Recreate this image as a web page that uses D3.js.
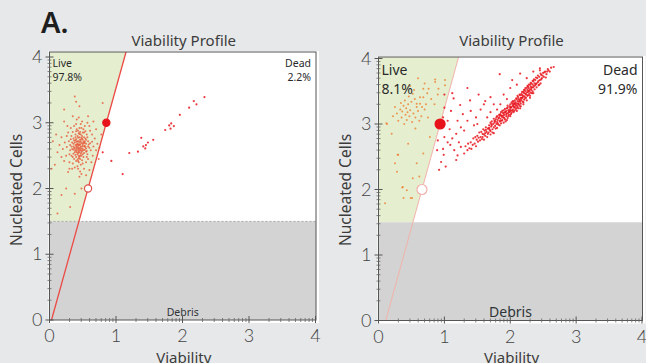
<!DOCTYPE html>
<html>
<head>
<meta charset="utf-8">
<script src="https://cdn.jsdelivr.net/npm/d3@7/dist/d3.min.js"></script>
<style>
  body { margin: 0; background: #e7e8e9; }
  svg { display: block; font-family: "Noto Sans", "DejaVu Sans", sans-serif; }
</style>
</head>
<body>
<div id="chart"></div>
<script>
// ---- data (log10 units) ----
var axisTicks = [0, 1, 2, 3, 4];
var debrisCut = 1.5;

// left sample
var liveA = [
  [0.42,2.62],[0.45,2.70],[0.38,2.55],[0.50,2.66],[0.47,2.58],[0.40,2.75],[0.53,2.72],[0.44,2.50],[0.36,2.68],[0.49,2.80],
  [0.41,2.60],[0.55,2.61],[0.33,2.64],[0.46,2.45],[0.52,2.54],[0.39,2.82],[0.43,2.88],[0.57,2.78],[0.31,2.58],[0.48,2.92],
  [0.35,2.48],[0.59,2.67],[0.44,2.40],[0.51,2.48],[0.29,2.72],[0.62,2.58],[0.37,2.95],[0.54,2.87],[0.42,2.34],[0.47,2.98],
  [0.26,2.63],[0.64,2.71],[0.33,2.80],[0.58,2.45],[0.40,2.42],[0.50,2.38],[0.45,2.55],[0.43,2.77],[0.36,2.59],[0.52,2.64],
  [0.48,2.69],[0.39,2.66],[0.46,2.62],[0.44,2.66],[0.41,2.71],[0.49,2.57],[0.53,2.59],[0.38,2.61],[0.47,2.74],[0.42,2.52],
  [0.55,2.68],[0.34,2.70],[0.60,2.62],[0.30,2.52],[0.56,2.82],[0.40,2.87],[0.50,2.85],[0.45,2.83],[0.37,2.45],[0.57,2.52],
  [0.23,2.70],[0.66,2.64],[0.28,2.85],[0.61,2.88],[0.35,2.38],[0.55,2.40],[0.43,2.30],[0.49,3.02],[0.41,3.05],[0.53,2.95],
  [0.20,2.60],[0.68,2.76],[0.25,2.50],[0.65,2.50],[0.32,2.92],[0.60,2.95],[0.38,2.32],[0.52,2.30],[0.46,2.26],[0.44,3.08],
  [0.18,2.78],[0.72,2.68],[0.22,2.42],[0.70,2.58],[0.27,2.95],[0.63,2.40],[0.34,2.30],[0.57,3.00],[0.48,2.22],[0.40,2.98],
  [0.15,2.66],[0.75,2.62],[0.30,2.40],[0.36,2.76],[0.54,2.76],[0.47,2.64],[0.43,2.58],[0.51,2.71],[0.39,2.51],[0.45,2.78],
  [0.42,2.68],[0.48,2.50],[0.36,2.64],[0.53,2.65],[0.44,2.46],[0.40,2.57],[0.50,2.60],[0.46,2.86],[0.35,2.86],[0.58,2.72],
  [0.31,2.66],[0.61,2.69],[0.42,2.80],[0.49,2.43],[0.38,2.70],[0.55,2.56],[0.44,2.72],[0.47,2.53],[0.41,2.65],[0.52,2.78],
  [0.46,2.58],[0.43,2.63],[0.50,2.74],[0.39,2.78],[0.48,2.61],[0.45,2.48],[0.37,2.62],[0.54,2.63],[0.42,2.44],[0.51,2.90],
  [0.12,2.55],[0.10,2.82],[0.08,2.36],[0.78,2.82],[0.74,2.45],[0.28,2.25],[0.60,2.28],[0.22,3.02],[0.66,3.02],[0.35,3.10],
  [0.58,3.10],[0.45,2.18],[0.55,2.20],[0.30,2.30],[0.18,2.48],[0.70,2.90],[0.26,2.80],[0.64,2.82],[0.33,2.50],[0.56,2.48],
  [0.43,2.67],[0.47,2.71],[0.41,2.55],[0.50,2.52],[0.45,2.61],[0.39,2.73],[0.52,2.69],[0.44,2.56],[0.48,2.77],[0.46,2.67],
  [0.44,2.60],[0.46,2.74],[0.41,2.67],[0.49,2.64],[0.43,2.54],[0.47,2.82],[0.40,2.63],[0.51,2.58],[0.45,2.66],[0.42,2.72],
  [0.48,2.55],[0.44,2.84],[0.50,2.69],[0.39,2.58],[0.46,2.50],[0.53,2.70],[0.37,2.73],[0.45,2.92],[0.43,2.42],[0.49,2.76],
  [0.36,2.53],[0.55,2.74],[0.34,2.60],[0.52,2.85],[0.40,2.48],[0.58,2.64],[0.32,2.75],[0.47,2.36],[0.41,2.90],[0.56,2.57],
  [0.38,3.40],[0.40,3.32],[0.45,3.25],[0.22,3.20],[0.31,1.72],[0.25,2.00],[0.48,2.00],[0.18,1.90],[0.12,1.62],[0.38,1.92],
  [0.05,2.72],[0.03,2.30],[0.80,3.30]
];
var deadA = [
  [2.33,3.39],[2.17,3.33],[2.21,3.28],[2.10,3.23],[1.96,3.12],[1.83,2.99],[1.80,2.96],[1.87,2.95],[1.74,2.89],[1.82,2.91],
  [1.56,2.74],[1.48,2.70],[1.45,2.66],[1.41,2.64],[1.44,2.61],[1.38,2.77],[1.33,2.56],[1.20,2.54],[0.93,2.42],[0.80,2.55],
  [1.10,2.22]
];
var gateA = [{x: 0.58, y: 2, open: true}, {x: 0.855, y: 3, open: false}];

// right sample
var liveB = [
  [0.86,3.68],[1.01,3.59],[0.28,3.16],[0.36,3.19],[0.41,3.14],[0.48,3.21],[0.53,3.16],[0.58,3.26],[0.63,3.31],[0.68,3.41],
  [0.74,3.47],[0.76,3.54],[0.43,3.06],[0.51,3.03],[0.56,2.93],[0.12,3.01],[0.78,2.80],[0.30,2.53],[0.68,2.55],[0.58,2.40],
  [0.52,2.17],[0.37,2.04],[0.38,1.87],[0.51,1.87],[0.10,1.79],[0.28,2.27],[0.29,2.53],[0.36,2.03],[0.43,1.99],[0.49,1.87],
  [0.13,3.00],[0.86,3.64],[1.01,3.67],[0.91,3.54],[0.68,3.54],[0.63,3.41],[0.58,3.31],[0.33,3.22],[0.38,3.28],[0.45,3.30],
  [0.50,3.34],[0.55,3.38],[0.42,3.24],[0.47,3.12],[0.35,3.10],[0.60,3.20],[0.65,3.12],[0.70,3.22],[0.40,3.36],[0.46,3.42],
  [0.52,3.46],[0.30,3.05],[0.25,3.26],[0.62,3.05],[0.72,3.30],[0.80,3.38],[0.34,3.32],[0.56,3.10],[0.44,3.18],[0.66,3.26],
  [0.22,3.12],[0.39,3.00],[0.75,3.10],[0.85,3.30],[0.90,3.45],[0.54,3.52],[0.48,3.58],[0.70,3.62],[0.60,3.70],[0.20,2.85],
  [0.45,2.70],[0.62,2.20],[0.25,2.40]
];
var deadB = [
  [1.30,2.55],[1.32,2.66],[1.35,2.60],[1.36,2.70],[1.38,2.63],[1.40,2.72],[1.41,2.62],[1.43,2.68],[1.44,2.78],[1.46,2.70],
  [1.47,2.80],[1.48,2.66],[1.49,2.76],[1.50,2.82],[1.51,2.73],[1.52,2.79],[1.53,2.87],[1.54,2.75],[1.55,2.80],[1.56,2.88],
  [1.57,2.77],[1.58,2.85],[1.59,2.92],[1.60,2.84],[1.61,2.90],[1.62,2.82],[1.63,2.95],[1.64,2.88],[1.65,2.80],[1.66,2.93],
  [1.67,2.87],[1.68,2.98],[1.69,2.91],[1.70,3.02],[1.70,2.89],[1.71,2.96],[1.72,3.04],[1.73,2.92],[1.74,3.00],[1.75,3.08],
  [1.75,2.95],[1.76,3.02],[1.77,2.97],[1.78,3.07],[1.79,3.00],[1.80,3.12],[1.80,3.03],[1.81,3.06],[1.82,2.99],[1.83,3.10],
  [1.84,3.04],[1.85,3.15],[1.85,3.08],[1.86,3.01],[1.87,3.12],[1.88,3.06],[1.89,3.17],[1.90,3.10],[1.90,3.21],[1.91,3.14],
  [1.92,3.07],[1.93,3.18],[1.94,3.12],[1.95,3.24],[1.95,3.16],[1.96,3.09],[1.97,3.21],[1.98,3.14],[1.99,3.27],[2.00,3.20],
  [2.00,3.30],[2.01,3.25],[2.02,3.17],[2.03,3.31],[2.04,3.22],[2.05,3.34],[2.05,3.27],[2.06,3.20],[2.07,3.36],[2.08,3.29],
  [2.09,3.24],[2.10,3.38],[2.10,3.31],[2.11,3.26],[2.12,3.41],[2.13,3.34],[2.14,3.28],[2.15,3.44],[2.15,3.37],[2.16,3.31],
  [2.17,3.46],[2.18,3.40],[2.19,3.34],[2.20,3.49],[2.20,3.43],[2.21,3.37],[2.22,3.52],[2.23,3.46],[2.24,3.40],[2.25,3.55],
  [2.25,3.48],[2.26,3.43],[2.27,3.57],[2.28,3.51],[2.29,3.46],[2.30,3.60],[2.30,3.53],[2.31,3.48],[2.32,3.62],[2.33,3.56],
  [2.34,3.50],[2.35,3.65],[2.36,3.58],[2.37,3.53],[2.38,3.67],[2.39,3.61],[2.40,3.56],[2.41,3.70],[2.42,3.64],[2.43,3.59],
  [2.44,3.72],[2.45,3.67],[2.46,3.62],[2.47,3.75],[2.48,3.70],[2.50,3.78],[2.51,3.72],[2.53,3.80],[2.55,3.76],[2.57,3.84],
  [2.60,3.80],[2.62,3.86],[2.66,3.87],[2.58,3.82],
  [1.82,3.09],[1.86,3.13],[1.88,3.10],[1.92,3.18],[1.94,3.20],[1.97,3.17],[1.99,3.22],[2.02,3.26],[2.04,3.28],[2.06,3.31],
  [2.08,3.33],[2.11,3.35],[2.13,3.38],[2.16,3.40],[2.18,3.44],[2.21,3.47],[2.23,3.50],[2.26,3.52],[2.28,3.55],[2.31,3.57],
  [2.34,3.60],[2.37,3.62],[1.84,3.13],[1.89,3.13],[1.96,3.25],[2.01,3.21],[2.07,3.26],[2.12,3.31],[2.17,3.39],[2.22,3.42],
  [2.27,3.49],[2.32,3.52],
  [1.63,2.91],[1.66,2.85],[1.68,2.94],[1.71,3.00],[1.73,2.87],[1.76,3.05],[1.78,2.93],[1.79,3.10],[1.81,3.01],[1.83,3.14],
  [1.84,2.98],[1.86,3.18],[1.87,3.05],[1.88,3.20],[1.91,3.09],[1.92,3.23],[1.93,3.04],[1.94,3.15],[1.96,3.28],[1.97,3.12],
  [1.98,3.19],[2.00,3.25],[2.01,3.15],[2.02,3.33],[2.03,3.20],[2.04,3.35],[2.05,3.18],[2.06,3.25],[2.07,3.31],[2.08,3.22],
  [2.09,3.39],[2.10,3.28],[2.11,3.43],[2.12,3.24],[2.13,3.30],[2.14,3.45],[2.15,3.34],[2.16,3.27],[2.17,3.36],[2.18,3.49],
  [2.19,3.41],[2.20,3.33],[2.21,3.52],[2.22,3.39],[2.23,3.55],[2.24,3.45],[2.25,3.36],[2.26,3.58],[2.27,3.44],[2.28,3.60],
  [2.29,3.50],[2.30,3.43],[2.31,3.63],[2.32,3.55],[2.33,3.47],[2.34,3.66],[2.35,3.56],[2.36,3.68],[2.38,3.59],[2.39,3.71],
  [2.40,3.62],[2.42,3.74],[2.43,3.66],[2.44,3.60],[2.46,3.77],[2.47,3.68],[2.49,3.74],[2.52,3.79],[2.54,3.71],[2.56,3.80],
  [1.58,2.80],[1.62,2.86],[1.67,2.93],[1.72,2.98],[1.77,3.04],[1.85,3.05],[1.90,3.16],[1.99,3.18],[2.05,3.30],[2.14,3.36],
  [1.60,2.76],[1.70,2.84],[1.80,2.94],[1.90,3.02],[2.00,3.12],[2.10,3.20],[2.20,3.30],[2.30,3.40],[1.75,2.86],[1.95,3.06],
  [2.15,3.24],[2.35,3.47],
  [1.84,3.76],[2.15,3.77],[2.03,3.67],[1.70,3.41],[1.39,3.36],[1.24,3.29],[1.14,3.39],[1.12,3.47],[1.55,3.22],[1.62,3.35],
  [1.48,3.10],[1.35,3.05],[1.28,3.15],[1.20,3.05],[1.10,3.20],[1.05,3.05],[1.00,3.25],[0.98,3.10],[1.75,3.30],[1.90,3.45],
  [2.00,3.55],[2.10,3.60],[2.25,3.70],[2.35,3.80],[2.45,3.85],[1.95,3.38],[1.80,3.22],[1.65,3.10],[1.45,2.98],[1.30,2.90],
  [1.18,2.85],[1.08,2.92],[1.40,3.20],[1.60,3.30],[1.52,3.45],[2.45,3.82],[1.35,3.55],[1.00,3.45],[0.95,2.95],[1.25,2.95],
  [1.50,3.00],[1.70,3.18],[1.85,3.30],
  [1.09,2.68],[0.99,2.53],[0.89,2.60],[0.95,2.42],[1.02,2.35],[0.92,2.30],[1.15,2.60],[1.20,2.52],[1.25,2.65],[1.05,2.72],
  [1.12,2.78],[1.00,2.80],[0.90,2.75],[1.18,2.45],[1.22,2.72],[0.98,2.62]
];
var gateB = [{x: 0.66, y: 2, open: true}, {x: 0.935, y: 3, open: false}];

var panels = [
  {title: "Viability Profile", live: liveA, dead: deadA, gate: gateA, livePct: "97.8%", deadPct: "2.2%",
   gateA0: 0.03, gateSlope: 0.275, xr: [49.5, 315.5], yr: [320, 57], top: 52, txtSize: 10.5,
   lineColor: "#ec4a45", lineWidth: 1.3, openStroke: "#e0504a", dotR: 3.6, liveColor: "#e8583a", dashed: true},
  {title: "Viability Profile", live: liveB, dead: deadB, gate: gateB, livePct: "8.1%", deadPct: "91.9%",
   gateA0: 0.11, gateSlope: 0.275, xr: [378.5, 642], yr: [320.5, 58.5], top: 57, txtSize: 14,
   lineColor: "#f2b3aa", lineWidth: 1, openStroke: "#f0b0aa", dotR: 5, liveColor: "#ef7d2e", dashed: false}
];

var svg = d3.select("#chart").append("svg")
  .attr("width", 646)
  .attr("height", 363);

svg.append("text")
  .attr("x", 41).attr("y", 33)
  .attr("font-size", 29).attr("font-weight", 600)
  .attr("fill", "#1e1e1e")
  .text("A.");

panels.forEach(function(p) {
  var x = d3.scaleLinear().domain([0, 4]).range(p.xr);
  var y = d3.scaleLinear().domain([0, 4]).range(p.yr);
  var left = x(0), right = x(4) + 0.5, bottom = y(0), top = p.top;
  var yTop = y.invert(top);
  var gx = function(v) { return p.gateA0 + p.gateSlope * v; };
  var g = svg.append("g");

  // white plot backing
  g.append("rect")
    .attr("x", left - 1).attr("y", top - 1)
    .attr("width", right - left + 4).attr("height", bottom - top + 4)
    .attr("fill", "#fff");

  // live gate (green)
  g.append("path")
    .attr("d", d3.line()([
      [left, top], [x(gx(yTop)), top], [x(gx(debrisCut)), y(debrisCut)], [left, y(debrisCut)]
    ]))
    .attr("fill", "#e5efcf");

  // debris zone
  g.append("rect")
    .attr("x", left).attr("y", y(debrisCut))
    .attr("width", right - left).attr("height", bottom - y(debrisCut))
    .attr("fill", "#d3d3d3");
  if (p.dashed) {
    g.append("line")
      .attr("x1", left).attr("x2", right)
      .attr("y1", y(debrisCut)).attr("y2", y(debrisCut))
      .attr("stroke", "#a8a8a8").attr("stroke-dasharray", "2,2");
  }

  // gate line
  g.append("line")
    .attr("x1", x(gx(0))).attr("y1", y(0))
    .attr("x2", x(gx(yTop))).attr("y2", top)
    .attr("stroke", p.lineColor).attr("stroke-width", p.lineWidth);

  // events
  g.append("g").selectAll("circle")
    .data(p.live).enter().append("circle")
    .attr("cx", function(d) { return x(d[0]); })
    .attr("cy", function(d) { return y(d[1]); })
    .attr("r", 1)
    .attr("fill", p.liveColor)
    .attr("opacity", 0.8);
  g.append("g").selectAll("circle")
    .data(p.dead).enter().append("circle")
    .attr("cx", function(d) { return x(d[0]); })
    .attr("cy", function(d) { return y(d[1]); })
    .attr("r", 1.1)
    .attr("fill", "#e8141c")
    .attr("opacity", 0.85);

  // gate handles
  g.selectAll(".handle")
    .data(p.gate).enter().append("circle")
    .attr("class", "handle")
    .attr("cx", function(d) { return x(d.x); })
    .attr("cy", function(d) { return y(d.y); })
    .attr("r", p.dotR)
    .attr("fill", function(d) { return d.open ? "#fff" : "#e8121a"; })
    .attr("stroke", function(d) { return d.open ? p.openStroke : "#e8121a"; })
    .attr("stroke-width", 1.2);

  // frame
  g.append("rect")
    .attr("x", left).attr("y", top)
    .attr("width", right - left).attr("height", bottom - top)
    .attr("fill", "none").attr("stroke", "#555").attr("stroke-width", 1);

  // log ticks
  var minor = [];
  axisTicks.slice(0, -1).forEach(function(t) {
    d3.range(2, 10).forEach(function(k) { minor.push(t + Math.log10(k)); });
  });
  g.selectAll(".mx").data(minor).enter().append("line")
    .attr("x1", function(d) { return x(d); }).attr("x2", function(d) { return x(d); })
    .attr("y1", bottom - 2).attr("y2", bottom + 2)
    .attr("stroke", "#666").attr("stroke-width", 0.8);
  g.selectAll(".my").data(minor).enter().append("line")
    .attr("y1", function(d) { return y(d); }).attr("y2", function(d) { return y(d); })
    .attr("x1", left - 2).attr("x2", left + 2)
    .attr("stroke", "#666").attr("stroke-width", 0.8);
  g.selectAll(".Mx").data(axisTicks).enter().append("line")
    .attr("x1", function(d) { return x(d); }).attr("x2", function(d) { return x(d); })
    .attr("y1", bottom - 4).attr("y2", bottom + 3)
    .attr("stroke", "#555");
  g.selectAll(".My").data(axisTicks).enter().append("line")
    .attr("y1", function(d) { return y(d); }).attr("y2", function(d) { return y(d); })
    .attr("x1", left - 4).attr("x2", left + 4)
    .attr("stroke", "#555");

  // tick labels
  g.selectAll(".lx").data(axisTicks).enter().append("text")
    .attr("x", function(d) { return x(d); }).attr("y", bottom + 22)
    .attr("text-anchor", "middle")
    .attr("font-family", "Lato, 'Noto Sans', sans-serif")
    .attr("font-size", 18).attr("font-weight", 300).attr("fill", "#444")
    .text(function(d) { return d; });
  g.selectAll(".ly").data(axisTicks).enter().append("text")
    .attr("x", left - 7).attr("y", function(d) { return y(d) + 6; })
    .attr("text-anchor", "end")
    .attr("font-family", "Lato, 'Noto Sans', sans-serif")
    .attr("font-size", 18).attr("font-weight", 300).attr("fill", "#444")
    .text(function(d) { return d; });

  // titles
  var cx = (left + right) / 2;
  g.append("text")
    .attr("x", cx + 1).attr("y", 46)
    .attr("text-anchor", "middle").attr("font-size", 15).attr("fill", "#3c3c3c")
    .text(p.title);
  g.append("text")
    .attr("x", cx + 1).attr("y", 363)
    .attr("text-anchor", "middle").attr("font-size", 15).attr("fill", "#3c3c3c")
    .text("Viability");
  g.append("text")
    .attr("transform", "translate(" + (left - 28) + "," + 190 + ") rotate(-90)")
    .attr("text-anchor", "middle").attr("font-size", 15.5).attr("fill", "#3c3c3c")
    .text("Nucleated Cells");

  // gate labels
  var lh = p.txtSize * 1.35;
  g.append("text").attr("x", left + 3).attr("y", top + 4 + p.txtSize)
    .attr("font-size", p.txtSize).attr("fill", "#2a2a2a").text("Live");
  g.append("text").attr("x", left + 3).attr("y", top + 4 + p.txtSize + lh)
    .attr("font-size", p.txtSize).attr("fill", "#2a2a2a").text(p.livePct);
  g.append("text").attr("x", right - 5).attr("y", top + 4 + p.txtSize)
    .attr("text-anchor", "end").attr("font-size", p.txtSize).attr("fill", "#2a2a2a").text("Dead");
  g.append("text").attr("x", right - 5).attr("y", top + 4 + p.txtSize + lh)
    .attr("text-anchor", "end").attr("font-size", p.txtSize).attr("fill", "#2a2a2a").text(p.deadPct);
  g.append("text").attr("x", cx).attr("y", bottom - 4)
    .attr("text-anchor", "middle").attr("font-size", p.txtSize).attr("fill", "#2f3438").text("Debris");
});
</script>
</body>
</html>
